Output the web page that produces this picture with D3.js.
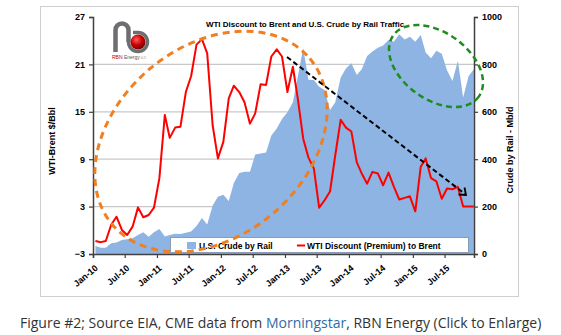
<!DOCTYPE html>
<html><head><meta charset="utf-8">
<script src="https://cdn.jsdelivr.net/npm/d3@7/dist/d3.min.js"></script>
<style>
html,body{margin:0;padding:0;background:#fff;}
svg{display:block;}
</style></head>
<body>
<script>
// ---- data ----
const startMonth = "2010-01";
const railVolume = [34,26,26,45,48,59,62,66,80,92,73,92,106,74,80,85,84,90,95,118,152,125,205,242,250,224,300,342,347,347,420,424,428,500,530,570,598,640,748,868,735,734,706,692,608,640,745,783,805,755,780,835,854,870,880,903,896,927,905,917,896,924,850,826,858,845,775,730,815,660,750,780];
const wtiDiscount = [-1.35,-1.5,-1.35,0.7,1.72,0.04,-0.6,0.46,2.9,1.65,1.94,2.86,6.6,14.6,11.7,13.0,13.1,17.5,19.5,23.5,24.2,22.4,13.3,9.1,11.2,16.7,18.3,17.5,16.2,13.5,14.8,18.5,18.4,22.0,22.9,22.0,17.5,20.7,16.7,11.6,9.2,7.8,2.86,3.8,4.9,9.5,14.0,13.0,12.5,8.6,7.2,5.9,7.4,7.2,5.7,7.3,5.5,3.9,4.1,4.3,2.4,8.05,9.1,6.6,6.2,4.0,5.3,5.2,5.5,3.0,3.0,3.0];
const leftTicks = [-3,3,9,15,21,27];
const rightTicks = [0,200,400,600,800,1000];
const xTickLabels = ["Jan-10","Jul-10","Jan-11","Jul-11","Jan-12","Jul-12","Jan-13","Jul-13","Jan-14","Jul-14","Jan-15","Jul-15"];
const titleText = "WTI Discount to Brent and U.S. Crude by Rail Traffic";
const leftTitle = "WTI-Brent $/Bbl";
const rightTitle = "Crude by Rail - Mb/d";
const legendLabels = ["U.S. Crude by Rail","WTI Discount (Premium) to Brent"];

const W = 561, H = 335;
const svg = d3.select("body").append("svg").attr("width",W).attr("height",H);
const FONT = "'Liberation Sans', Arial, sans-serif";

const parse = d3.timeParse("%Y-%m");
const t0 = parse(startMonth);
const months = railVolume.map((_,i)=> d3.timeDay.offset(d3.timeMonth.offset(t0,i),14));
const tickDates = xTickLabels.map(s => d3.timeParse("%b-%y")(s));

const x = d3.scaleTime().domain([t0, d3.timeDay.offset(d3.timeMonth.offset(t0,71),15)]).range([93,474]);
const yL = d3.scaleLinear().domain([-3,27]).range([254,17]);
const yR = d3.scaleLinear().domain([0,1000]).range([254,17]);

// outer frame
svg.append("rect").attr("x",40.5).attr("y",6.5).attr("width",478).attr("height",290)
  .attr("fill","#fff").attr("stroke","#cfcfcf").attr("stroke-width",1);

// gridlines
svg.append("g").selectAll("line").data(leftTicks.filter(v=>v>-3 && v<27)).join("line")
  .attr("x1",93).attr("x2",474).attr("y1",d=>yL(d)).attr("y2",d=>yL(d))
  .attr("stroke","#c8c8c8").attr("stroke-width",1.3);

// area
const area = d3.area().x((d,i)=>x(months[i])).y0(yR(0)).y1(d=>yR(d));
svg.append("path").datum(railVolume).attr("d",area).attr("fill","#8eb4e3");

// red line
const line = d3.line().x((d,i)=>x(months[i])).y(d=>yL(d));
svg.append("path").datum(wtiDiscount).attr("d",line).attr("fill","none")
  .attr("stroke","#ff0000").attr("stroke-width",2).attr("stroke-linejoin","round");

// axes
const gL = svg.append("g").attr("transform","translate(93,0)")
  .call(d3.axisLeft(yL).tickValues(leftTicks).tickSize(4).tickPadding(4));
const gR = svg.append("g").attr("transform","translate(474,0)")
  .call(d3.axisRight(yR).tickValues(rightTicks).tickFormat(d3.format("d")).tickSize(4).tickPadding(4));
const gB = svg.append("g").attr("transform","translate(0,254)")
  .call(d3.axisBottom(x).tickValues(tickDates).tickSize(4).tickFormat(()=>""));
[gL,gR,gB].forEach(g=>{
  g.select(".domain").attr("stroke","#404040").attr("stroke-width",1.5);
  g.selectAll(".tick line").attr("stroke","#404040").attr("stroke-width",1.2);
  g.selectAll("text").attr("font-family",FONT).attr("font-weight","bold").attr("font-size",9).attr("fill","#000");
});
gB.selectAll(".tick").append("text").text((d,i)=>xTickLabels[i])
  .attr("font-family",FONT).attr("font-weight","bold").attr("font-size",9).attr("fill","#000")
  .attr("text-anchor","end").attr("transform","translate(5,15) rotate(-40)");

// axis titles
svg.append("text").text(leftTitle).attr("transform","translate(55,141) rotate(-90)")
  .attr("text-anchor","middle").attr("font-family",FONT).attr("font-weight","bold").attr("font-size",9);
svg.append("text").text(rightTitle).attr("transform","translate(513,150) rotate(-90)")
  .attr("text-anchor","middle").attr("font-family",FONT).attr("font-weight","bold").attr("font-size",9);

// title
svg.append("text").text(titleText).attr("x",305).attr("y",27).attr("text-anchor","middle")
  .attr("font-family",FONT).attr("font-weight","bold").attr("font-size",8);

// legend
const lg = svg.append("g");
lg.append("rect").attr("x",170.5).attr("y",237.5).attr("width",298).attr("height",15)
  .attr("fill","#fff").attr("stroke","#8a9bb8").attr("stroke-width",1);
lg.append("rect").attr("x",187).attr("y",242).attr("width",9).attr("height",7).attr("fill","#8eb4e3");
lg.append("text").text(legendLabels[0]).attr("x",199).attr("y",248.5)
  .attr("font-family",FONT).attr("font-weight","bold").attr("font-size",8.5);
lg.append("line").attr("x1",297).attr("x2",305).attr("y1",245.5).attr("y2",245.5).attr("stroke","#ff0000").attr("stroke-width",2);
lg.append("text").text(legendLabels[1]).attr("x",307).attr("y",248.5)
  .attr("font-family",FONT).attr("font-weight","bold").attr("font-size",8.5);

// logo
const logo = svg.append("g");
const defs = svg.append("defs");
const rg = defs.append("radialGradient").attr("id","ball").attr("cx","40%").attr("cy","35%").attr("r","65%");
rg.append("stop").attr("offset","0%").attr("stop-color","#ff6060");
rg.append("stop").attr("offset","55%").attr("stop-color","#d00000");
rg.append("stop").attr("offset","100%").attr("stop-color","#700000");
logo.append("path").attr("d","M115.5,52 V30 A6.5,6.5 0 0 1 128.5,30 V42").attr("fill","none").attr("stroke","#6d6e71").attr("stroke-width",4.5);
logo.append("path").attr("d","M128.5,42 A9.5,9.5 0 1 0 138,32.5 H133").attr("fill","none").attr("stroke","#6d6e71").attr("stroke-width",3.5);
logo.append("circle").attr("cx",138).attr("cy",42).attr("r",7.5).attr("fill","url(#ball)");
const lt = logo.append("text").attr("x",112).attr("y",59).attr("font-family",FONT).attr("font-size",5);
lt.append("tspan").text("RBN").attr("fill","#c00000");
lt.append("tspan").text(" Energy").attr("fill","#555");
lt.append("tspan").text(" LLC").attr("fill","#777").attr("font-size",3);

// annotations
svg.append("ellipse").attr("cx",211).attr("cy",141.5).attr("rx",129).attr("ry",95)
  .attr("transform","rotate(-40 211 141.5)").attr("fill","none")
  .attr("stroke","#f07f22").attr("stroke-width",3).attr("stroke-dasharray","7,5");
svg.append("ellipse").attr("cx",436).attr("cy",66).attr("rx",52.6).attr("ry",33.5)
  .attr("transform","rotate(35.6 436 66)").attr("fill","none")
  .attr("stroke","#1e8c1e").attr("stroke-width",2.5).attr("stroke-dasharray","6,4");
svg.append("line").attr("x1",287).attr("y1",57).attr("x2",465).attr("y2",194)
  .attr("stroke","#000").attr("stroke-width",2).attr("stroke-dasharray","5,3");
svg.append("path").attr("d","M458.5,194.5 L466,195 L464.5,187.5").attr("fill","none").attr("stroke","#000").attr("stroke-width",1.8);

// caption
const cap = svg.append("text").attr("x",20).attr("y",328).attr("font-family","'Open Sans', sans-serif").attr("font-size",14).attr("fill","#333");
cap.append("tspan").text("Figure #2; Source EIA, CME data from ");
cap.append("tspan").text("Morningstar").attr("fill","#2e6da4");
cap.append("tspan").text(", RBN Energy (Click to Enlarge)");
</script>
</body></html>
